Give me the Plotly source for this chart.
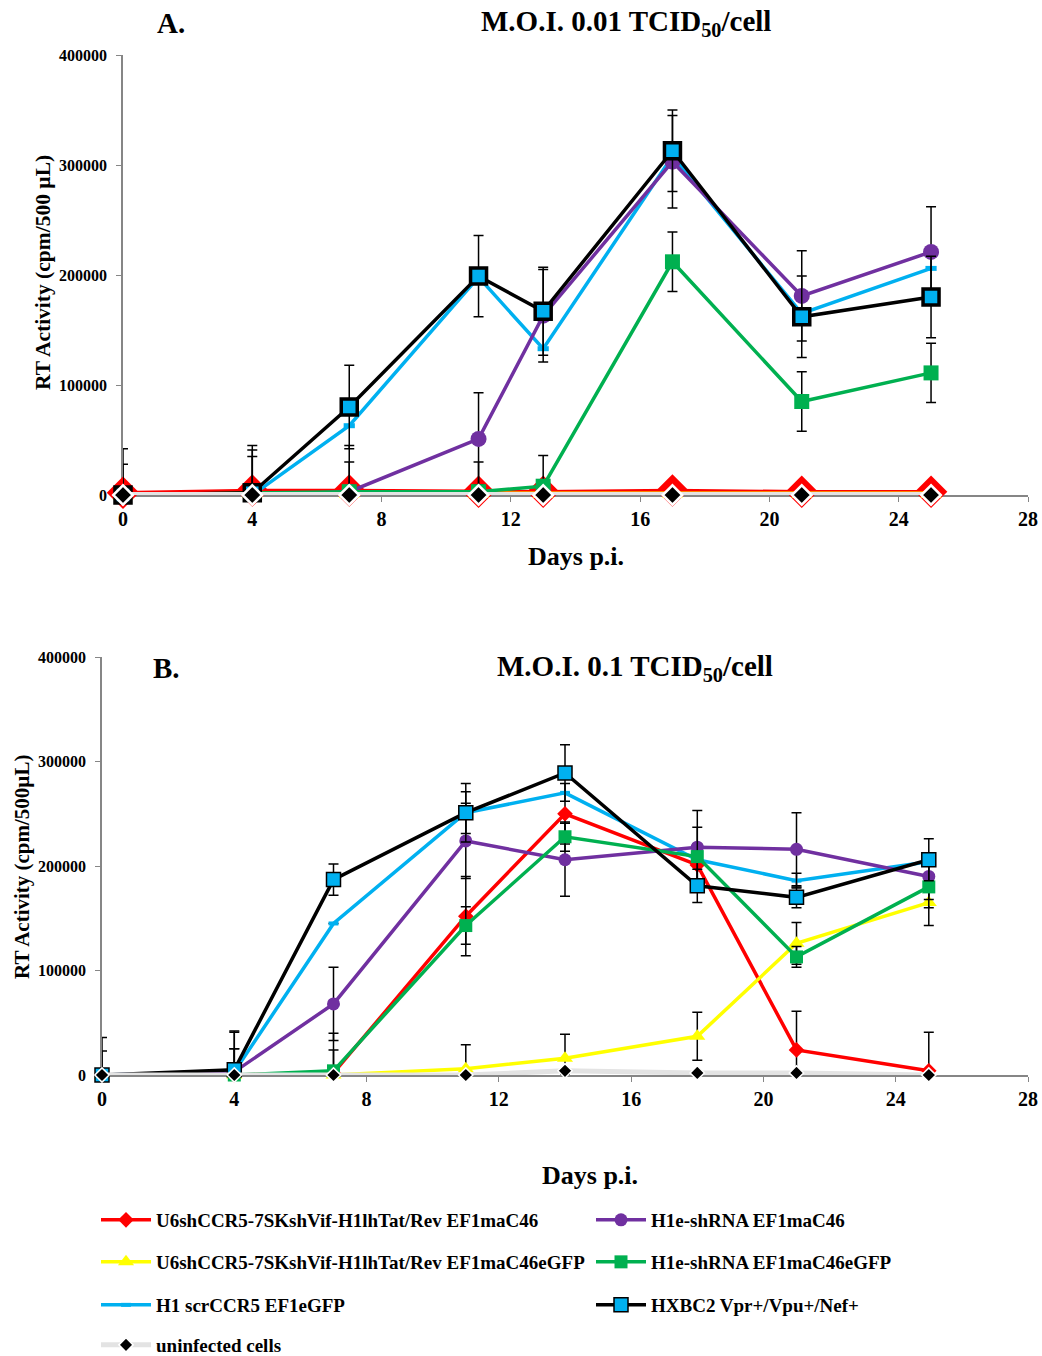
import plotly.graph_objects as go

# ---------------- data ----------------
days_a = [0, 4, 7, 11, 13, 17, 21, 25]
red_a = [2000, 4000, 4000, 3000, 3000, 4000, 3000, 3000]
yellow_a = [0, 1500, 1500, 1500, 1500, 1500, 1500, 1500]
cyan_a = [0, 0, 63000, 198000, 133000, 308000, 165000, 206000]
purple_a = [0, 0, 3000, 51000, 163000, 303000, 181000, 221000]
green_a = [0, 2000, 3000, 3000, 8000, 212000, 85000, 111000]
black_a = [0, 2000, 80000, 199000, 167000, 313000, 162000, 180000]
unin_a = [0, 0, 0, 0, 0, 0, 0, 0]
err_black_a = [28000, 39000, 38000, 37000, 40000, 37000, 37000, 37000]
err_purple_a = [42000, 45000, 42000, 42000, 42000, 42000, 41000, 41000]
err_green_a = [0, 33000, 27000, 27000, 28000, 27000, 27000, 27000]

days_b = [0, 4, 7, 11, 14, 18, 21, 25]
red_b = [0, 0, 2000, 152000, 250000, 201000, 24000, 4000]
yellow_b = [0, 0, 0, 6000, 16000, 37000, 126000, 165000]
cyan_b = [0, 3000, 145000, 251000, 270000, 206000, 186000, 204000]
purple_b = [0, 3000, 68000, 224000, 206000, 218000, 216000, 190000]
green_b = [0, 0, 4000, 143000, 228000, 209000, 113000, 180000]
black_b = [0, 5000, 187000, 251000, 289000, 181000, 170000, 206000]
unin_b = [0, 0, 0, 0, 4000, 2000, 2000, 0]
err_black_b = [36000, 37000, 15000, 28000, 27000, 16000, 10000, 20000]
err_purple_b = [23000, 38000, 35000, 36000, 35000, 35000, 35000, 22000]
err_red_b = [0, 25000, 38000, 38000, 29000, 20000, 37000, 37000]
err_green_b = [0, 25000, 20000, 18000, 14000, 28000, 10000, 20000]
err_yellow_b = [0, 0, 0, 23000, 23000, 23000, 20000, 22000]
err_cyan_b = [0, 0, 0, 20000, 0, 0, 7000, 0]

names = [
    "U6shCCR5-7SKshVif-H1lhTat/Rev EF1maC46",
    "U6shCCR5-7SKshVif-H1lhTat/Rev EF1maC46eGFP",
    "H1 scrCCR5 EF1eGFP",
    "H1e-shRNA EF1maC46",
    "H1e-shRNA EF1maC46eGFP",
    "HXBC2 Vpr+/Vpu+/Nef+",
    "uninfected cells",
]

x_ticks = [0, 4, 8, 12, 16, 20, 24, 28]
y_ticks = [0, 100000, 200000, 300000, 400000]

RED = "#FF0000"
YEL = "#FFFF00"
CYA = "#00B0F0"
PUR = "#7030A0"
GRN = "#00B050"
BLK = "#000000"
GRY = "#E3E3E3"

FONT = "Liberation Serif"
W, H = 1042, 1356

fig = go.Figure()


def err(vals, e):
    if e is None:
        return None
    return dict(type="data", symmetric=False, array=e,
                arrayminus=[min(a, b) for a, b in zip(e, vals)],
                color="black", thickness=1.5, width=5)


def add(x, y, color, lw, sym, size, mcolor, mline, mlw, e, xa, ya, name, legend, showleg):
    fig.add_trace(go.Scatter(
        x=x, y=y, mode="lines+markers", name=name,
        line=dict(color=color, width=lw),
        marker=dict(symbol=sym, size=size, color=mcolor,
                    line=dict(color=mline, width=mlw)),
        error_y=err(y, e), xaxis=xa, yaxis=ya, cliponaxis=False,
        showlegend=showleg, legend=legend,
    ))


# Panel A
add(days_a, red_a, RED, 3.5, "diamond", 25, RED, RED, 0, None, "x", "y", names[0], "legend", False)
add(days_a, yellow_a, YEL, 3.5, "triangle-up", 18, YEL, YEL, 0, None, "x", "y", names[1], "legend", False)
add(days_a, cyan_a, CYA, 3.5, "line-ew", 8, CYA, CYA, 5, None, "x", "y", names[2], "legend", False)
add(days_a, purple_a, PUR, 3.5, "circle", 16, PUR, PUR, 0, err_purple_a, "x", "y", names[3], "legend", False)
add(days_a, green_a, GRN, 3.5, "square", 15, GRN, GRN, 0, err_green_a, "x", "y", names[4], "legend", False)
add(days_a, black_a, BLK, 3.5, "square", 16, CYA, BLK, 3.5, err_black_a, "x", "y", names[5], "legend", False)
add(days_a, unin_a, GRY, 6, "diamond", 15, BLK, "white", 2.5, None, "x", "y", names[6], "legend", False)

# Panel B
legs = ["legend", "legend3", "legend5", "legend2", "legend4", "legend6", "legend7"]
add(days_b, red_b, RED, 3.5, "diamond", 12, RED, RED, 0, err_red_b, "x2", "y2", names[0], legs[0], True)
add(days_b, yellow_b, YEL, 3.5, "triangle-up", 14, YEL, YEL, 0, err_yellow_b, "x2", "y2", names[1], legs[1], True)
add(days_b, cyan_b, CYA, 3.5, "line-ew", 7, CYA, CYA, 4, err_cyan_b, "x2", "y2", names[2], legs[2], True)
add(days_b, purple_b, PUR, 3.5, "circle", 13, PUR, PUR, 0, err_purple_b, "x2", "y2", names[3], legs[3], True)
add(days_b, green_b, GRN, 3.5, "square", 13, GRN, GRN, 0, err_green_b, "x2", "y2", names[4], legs[4], True)
add(days_b, black_b, BLK, 3.5, "square", 14, CYA, BLK, 1.5, err_black_b, "x2", "y2", names[5], legs[5], True)
add(days_b, unin_b, GRY, 5, "diamond", 11, BLK, "white", 1.5, None, "x2", "y2", names[6], legs[6], True)

tickfont_y = dict(family=FONT, size=16, color="black", weight="bold")
tickfont_x = dict(family=FONT, size=20, color="black", weight="bold")


def xax(dom, anchor):
    return dict(domain=dom, range=[0, 28], tickvals=x_ticks, ticks="outside", ticklen=5,
                tickcolor="#868686", showline=True, linecolor="#868686", linewidth=1.5,
                showgrid=False, zeroline=False, tickfont=tickfont_x, anchor=anchor,
                layer="below traces", automargin=False)


def yax(dom, anchor):
    return dict(domain=dom, range=[0, 400000], tickvals=y_ticks,
                ticktext=[str(v) for v in y_ticks], ticks="outside", ticklen=5,
                tickcolor="#868686", showline=True, linecolor="#868686", linewidth=1.5,
                showgrid=False, zeroline=False, tickfont=tickfont_y, anchor=anchor,
                layer="below traces", ticklabelstandoff=6, automargin=False)


fig.update_layout(
    width=W, height=H, margin=dict(l=0, r=0, t=0, b=0, autoexpand=False),
    plot_bgcolor="white", paper_bgcolor="white",
    xaxis=xax([123 / W, 1028 / W], "y"),
    yaxis=yax([1 - 495 / H, 1 - 55 / H], "x"),
    xaxis2=xax([102 / W, 1028 / W], "y2"),
    yaxis2=yax([1 - 1075 / H, 1 - 657 / H], "x2"),
)

legfont = dict(family=FONT, size=19, color="black", weight="bold")
legpos = {
    "legend": (96, 1220), "legend2": (591, 1220),
    "legend3": (96, 1262), "legend4": (591, 1262),
    "legend5": (96, 1305), "legend6": (591, 1305),
    "legend7": (96, 1345),
}
for k, (px, py) in legpos.items():
    fig.update_layout(**{k: dict(x=px / W, y=1 - py / H, xanchor="left", yanchor="middle",
                                 xref="paper", yref="paper", font=legfont, itemwidth=50,
                                 bgcolor="rgba(0,0,0,0)", borderwidth=0)})


def ann(text, x, y, size, angle=0):
    fig.add_annotation(text=text, x=x / W, y=1 - y / H, xref="paper", yref="paper",
                       showarrow=False, textangle=angle, xanchor="center", yanchor="middle",
                       font=dict(family=FONT, size=size, color="black", weight="bold"))


ann("A.", 171, 23, 29)
ann("M.O.I. 0.01 TCID<sub>50</sub>/cell", 626, 23, 29)
ann("B.", 166, 668, 29)
ann("M.O.I. 0.1 TCID<sub>50</sub>/cell", 635, 668, 29)
ann("Days p.i.", 576, 556, 26)
ann("Days p.i.", 590, 1175, 26)
ann("RT Activity (cpm/500 µL)", 43, 273, 21.5, -90)
ann("RT Activity (cpm/500µL)", 22, 867, 21, -90)

fig.write_html("out.html")
